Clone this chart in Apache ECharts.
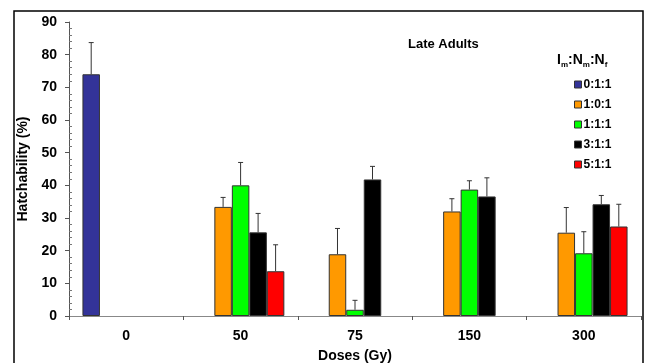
<!DOCTYPE html>
<html>
<head>
<meta charset="utf-8">
<script src="https://cdn.jsdelivr.net/npm/echarts@6/dist/echarts.min.js"></script>
<style>html,body{margin:0;padding:0;background:#fff;}#c{width:647px;height:363px;}</style>
</head>
<body>
<div id="c"></div>
<script>
var categories = ['0', '50', '75', '150', '300'];
var seriesNames = ['0:1:1', '1:0:1', '1:1:1', '3:1:1', '5:1:1'];
var v011 = [74.0, null, null, null, null];
var v101 = [null, 33.4, 18.9, 32.0, 25.5];
var v111 = [null, 40.0, 1.9, 38.7, 19.2];
var v311 = [null, 25.6, 41.8, 36.6, 34.2];
var v511 = [null, 13.7, null, null, 27.4];
var e011 = [9.7, null, null, null, null];
var e101 = [null, 2.9, 7.9, 3.9, 7.7];
var e111 = [null, 7.0, 2.9, 2.7, 6.6];
var e311 = [null, 5.8, 4.0, 5.7, 2.7];
var e511 = [null, 8.1, null, null, 6.8];
var yTicks = {min: 0, max: 90, interval: 10};

var values = [v011, v101, v111, v311, v511];
var errors = [e011, e101, e111, e311, e511];
var colors = ['#333399', '#FF9900', '#00FF00', '#000000', '#FF0000'];
var catGap = 0.235;
var FONT = "'Liberation Sans', Arial, sans-serif";

var chart = echarts.init(document.getElementById('c'));
var series = [];
values.forEach(function (vals, i) {
  series.push({
    name: seriesNames[i], type: 'bar', data: vals,
    barGap: '0%', barCategoryGap: (catGap * 100) + '%',
    itemStyle: {color: colors[i], borderColor: '#333', borderWidth: 1},
    z: 2
  });
});
values.forEach(function (vals, i) {
  var d = [];
  vals.forEach(function (v, k) { if (v != null) d.push([k, v, errors[i][k]]); });
  series.push({
    type: 'custom', data: d, z: 3, silent: true,
    renderItem: (function (si) {
      return function (params, api) {
        var xi = api.value(0), v = api.value(1), e = api.value(2);
        var band = api.size([1, 0])[0];
        var bw = band * (1 - catGap) / 5;
        var base = api.coord([xi, v]);
        var x = base[0] + (si - 2) * bw;
        var top = api.coord([xi, v + e])[1];
        var st = {stroke: '#333', lineWidth: 1};
        return {type: 'group', children: [
          {type: 'line', shape: {x1: x, y1: base[1], x2: x, y2: top}, style: st},
          {type: 'line', shape: {x1: x - 2.5, y1: top, x2: x + 2.5, y2: top}, style: st}
        ]};
      };
    })(i)
  });
});

chart.setOption({
  animation: false,
  backgroundColor: '#fff',
  title: {text: 'Late Adults', left: 403, top: 33,
    textStyle: {fontFamily: FONT, fontWeight: 'bold', fontSize: 13, color: '#000'}},
  legend: {
    data: seriesNames, orient: 'vertical', left: 569, top: 73,
    itemWidth: 7, itemHeight: 7, itemGap: 7,
    icon: 'rect',
    itemStyle: {borderColor: '#333', borderWidth: 1},
    textStyle: {fontFamily: FONT, fontWeight: 'bold', fontSize: 12, color: '#000', lineHeight: 13, padding: [0, 0, 0, -3]}
  },
  grid: {left: 69, right: 6, top: 22, bottom: 47, outerBoundsMode: 'none', containLabel: false},
  xAxis: {
    type: 'category', data: categories,
    name: 'Doses (Gy)', nameLocation: 'middle', nameGap: 33,
    nameTextStyle: {fontFamily: FONT, fontWeight: 'bold', fontSize: 14, color: '#000'},
    axisLine: {lineStyle: {color: '#888', width: 1}},
    axisTick: {show: true, length: 4, lineStyle: {color: '#555'}},
    axisLabel: {fontFamily: FONT, fontWeight: 'bold', fontSize: 14, color: '#000', margin: 13}
  },
  yAxis: {
    type: 'value', min: yTicks.min, max: yTicks.max, interval: yTicks.interval,
    name: 'Hatchability (%)', nameLocation: 'middle', nameGap: 36,
    nameTextStyle: {fontFamily: FONT, fontWeight: 'bold', fontSize: 14, color: '#000'},
    axisLine: {show: true, lineStyle: {color: '#555', width: 1}},
    axisTick: {show: true, length: 4, lineStyle: {color: '#555'}},
    minorTick: {show: true, splitNumber: 5, length: -3, lineStyle: {color: '#777'}},
    splitLine: {show: false},
    axisLabel: {fontFamily: FONT, fontWeight: 'bold', fontSize: 14, color: '#000', margin: 12}
  },
  graphic: [
    {type: 'rect', shape: {x: 14, y: 11, width: 629, height: 400},
      style: {fill: 'none', stroke: '#000', lineWidth: 1.5}, silent: true, z: 10},
    {type: 'text', left: 557, top: 53, z: 10,
      style: {text: 'I{s|m}:N{s|m}:N{s|f}', fill: '#000',
        font: 'bold 14px ' + FONT,
        rich: {s: {fontSize: 8, fontWeight: 'bold', fontFamily: FONT, padding: [9, 0, 0, 0], fill: '#000'}}}}
  ],
  series: series
});
</script>
</body>
</html>
